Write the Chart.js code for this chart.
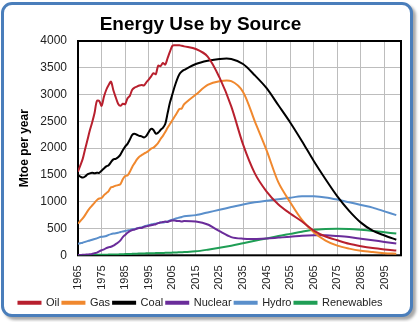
<!DOCTYPE html>
<html>
<head>
<meta charset="utf-8">
<script src="https://cdn.jsdelivr.net/npm/chart.js@4.4.1/dist/chart.umd.min.js"></script>
<style>
  body { margin: 0; background: #fff; }
  #wrap { position: relative; width: 420px; height: 322px; }
  #frame {
    position: absolute; left: 1px; top: 2px; width: 406px; height: 309px;
    border: 3px solid #4a7ebb; border-radius: 11px; background: #fff;
    box-shadow: 3px 3px 3px rgba(0, 0, 0, 0.35);
  }
  #chart { position: absolute; left: 0; top: 0; }
</style>
</head>
<body>
<div id="wrap">
  <div id="frame"></div>
  <canvas id="chart" width="420" height="322"></canvas>
</div>
<script>
// years: yearly history to 2010, then every 5 years
const years = [1965, 1966, 1967, 1968, 1969, 1970, 1971, 1972, 1973, 1974,
  1975, 1976, 1977, 1978, 1979, 1980, 1981, 1982, 1983, 1984,
  1985, 1986, 1987, 1988, 1989, 1990, 1991, 1992, 1993, 1994,
  1995, 1996, 1997, 1998, 1999, 2000, 2001, 2002, 2003, 2004,
  2005, 2006, 2007, 2008, 2009, 2010,
  2015, 2020, 2025, 2030, 2035, 2040, 2045, 2050, 2055, 2060,
  2065, 2070, 2075, 2080, 2085, 2090, 2095, 2100];

const oil = [1560, 1680, 1800, 1980, 2150, 2330, 2480, 2650, 2880, 2880,
  2790, 2960, 3090, 3180, 3240, 3080, 2950, 2830, 2790, 2830,
  2820, 2930, 2980, 3090, 3130, 3150, 3170, 3180, 3170, 3230,
  3280, 3340, 3400, 3380, 3540, 3530, 3590, 3560, 3680, 3800,
  3910, 3920, 3920, 3920, 3910, 3900,
  3850, 3710, 3320, 2780, 2070, 1530, 1190, 950, 780, 630,
  460, 350, 280, 215, 170, 135, 110, 90];

const gas = [590, 640, 690, 750, 820, 880, 930, 980, 1030, 1060,
  1070, 1120, 1160, 1200, 1270, 1280, 1300, 1310, 1330, 1420,
  1480, 1490, 1560, 1650, 1720, 1790, 1840, 1870, 1900, 1920,
  1950, 1990, 2010, 2050, 2100, 2170, 2230, 2300, 2380, 2450,
  2520, 2590, 2660, 2730, 2740, 2820,
  3000, 3180, 3250, 3250, 3050, 2500, 1960, 1360, 990, 660,
  430, 275, 180, 125, 85, 60, 40, 28];

const coal = [1500, 1470, 1450, 1470, 1510, 1530, 1540, 1530, 1540, 1540,
  1580, 1620, 1660, 1680, 1740, 1790, 1800, 1830, 1880, 1960,
  2030, 2080, 2160, 2250, 2270, 2250, 2230, 2220, 2200, 2230,
  2300, 2360, 2340, 2270, 2290, 2340, 2380, 2450, 2650, 2850,
  3000, 3150, 3280, 3380, 3430, 3460,
  3570, 3630, 3665, 3665, 3570, 3360, 3120, 2800, 2480, 2130,
  1760, 1420, 1100, 830, 610, 460, 370, 290];

const nuclear = [5, 7, 9, 12, 15, 18, 25, 40, 50, 75,
  95, 110, 135, 150, 160, 180, 210, 240, 280, 340,
  380, 420, 450, 470, 480, 500, 510, 510, 530, 540,
  550, 560, 570, 580, 600, 610, 620, 630, 620, 640,
  650, 650, 640, 640, 630, 640,
  630, 575, 450, 340, 310, 305, 315, 330, 345, 365,
  375, 375, 360, 340, 310, 280, 250, 220];

const hydro = [215, 225, 235, 250, 265, 275, 290, 305, 315, 335,
  345, 350, 360, 380, 395, 405, 410, 420, 435, 445,
  455, 465, 470, 485, 490, 500, 515, 520, 540, 550,
  565, 575, 585, 590, 600, 615, 610, 620, 630, 650,
  665, 680, 690, 705, 715, 730,
  750, 800, 850, 900, 950, 990, 1020, 1045, 1075, 1100,
  1100, 1080, 1040, 990, 940, 890, 820, 750];

const renewables = [5, 5, 6, 6, 7, 7, 8, 8, 9, 10,
  10, 11, 12, 13, 14, 15, 16, 17, 19, 21,
  22, 24, 25, 27, 29, 30, 32, 34, 35, 36,
  38, 39, 40, 41, 42, 43, 44, 46, 47, 48,
  50, 52, 54, 56, 58, 60,
  75, 105, 140, 180, 225, 270, 315, 360, 400, 440,
  475, 490, 495, 490, 475, 455, 430, 405];

const tickYears = [1965, 1975, 1985, 1995, 2005, 2015, 2025, 2035, 2045, 2055, 2065, 2075, 2085, 2095];

function pts(vals) {
  return vals.map((v, i) => ({ x: years[i], y: v }));
}

function series(label, vals, color) {
  return {
    label: label,
    data: pts(vals),
    borderColor: color,
    backgroundColor: color,
    borderWidth: 2,
    pointRadius: 0,
    tension: 0.3,
    fill: false
  };
}

// black box round the plot area
const plotBorder = {
  id: 'plotBorder',
  beforeDatasetsDraw(chart) {
    const a = chart.chartArea;
    const ctx = chart.ctx;
    ctx.save();
    ctx.strokeStyle = '#000';
    ctx.lineWidth = 2;
    ctx.strokeRect(a.left, a.top, a.right - a.left, a.bottom - a.top);
    ctx.restore();
  }
};

new Chart(document.getElementById('chart'), {
  type: 'line',
  data: {
    datasets: [
      series('Oil', oil, '#b8202e'),
      series('Gas', gas, '#f0882e'),
      series('Coal', coal, '#000000'),
      series('Nuclear', nuclear, '#6a2c9a'),
      series('Hydro', hydro, '#5a8fcb'),
      series('Renewables', renewables, '#1f9e55')
    ]
  },
  options: {
    responsive: false,
    animation: false,
    layout: { padding: { left: 0, right: 19, top: 0, bottom: 3.7 } },
    plugins: {
      title: {
        display: true,
        text: 'Energy Use by Source',
        color: '#000',
        font: { family: 'Liberation Sans', size: 19, weight: 'bold' },
        padding: { top: 13.6, bottom: 4.6 }
      },
      legend: {
        position: 'bottom',
        labels: {
          color: '#222',
          font: { family: 'Liberation Sans', size: 11 },
          boxWidth: 22,
          boxHeight: 2,
          padding: 3
        }
      },
      tooltip: { enabled: false }
    },
    scales: {
      x: {
        type: 'linear',
        min: 1965,
        max: 2102,
        afterBuildTicks: axis => { axis.ticks = tickYears.map(v => ({ value: v })); },
        afterFit: s => { s.height = 39; },
        grid: { color: '#bdbdbd', drawTicks: false },
        border: { display: false },
        ticks: {
          color: '#222',
          font: { family: 'Liberation Sans', size: 11 },
          minRotation: 90,
          maxRotation: 90,
          padding: 10,
          autoSkip: false,
          callback: v => String(v)
        }
      },
      y: {
        min: 0,
        max: 4000,
        afterFit: s => { s.width = 78; },
        grid: { color: '#bdbdbd', drawTicks: false },
        border: { display: false },
        ticks: {
          stepSize: 500,
          color: '#222',
          font: { family: 'Liberation Sans', size: 12 },
          padding: 11,
          callback: v => String(v)
        },
        title: {
          display: true,
          text: 'Mtoe per year',
          color: '#000',
          font: { family: 'Liberation Sans', size: 12, weight: 'bold' },
          padding: { top: 17, bottom: 0 }
        }
      }
    }
  },
  plugins: [plotBorder]
});
</script>
</body>
</html>
